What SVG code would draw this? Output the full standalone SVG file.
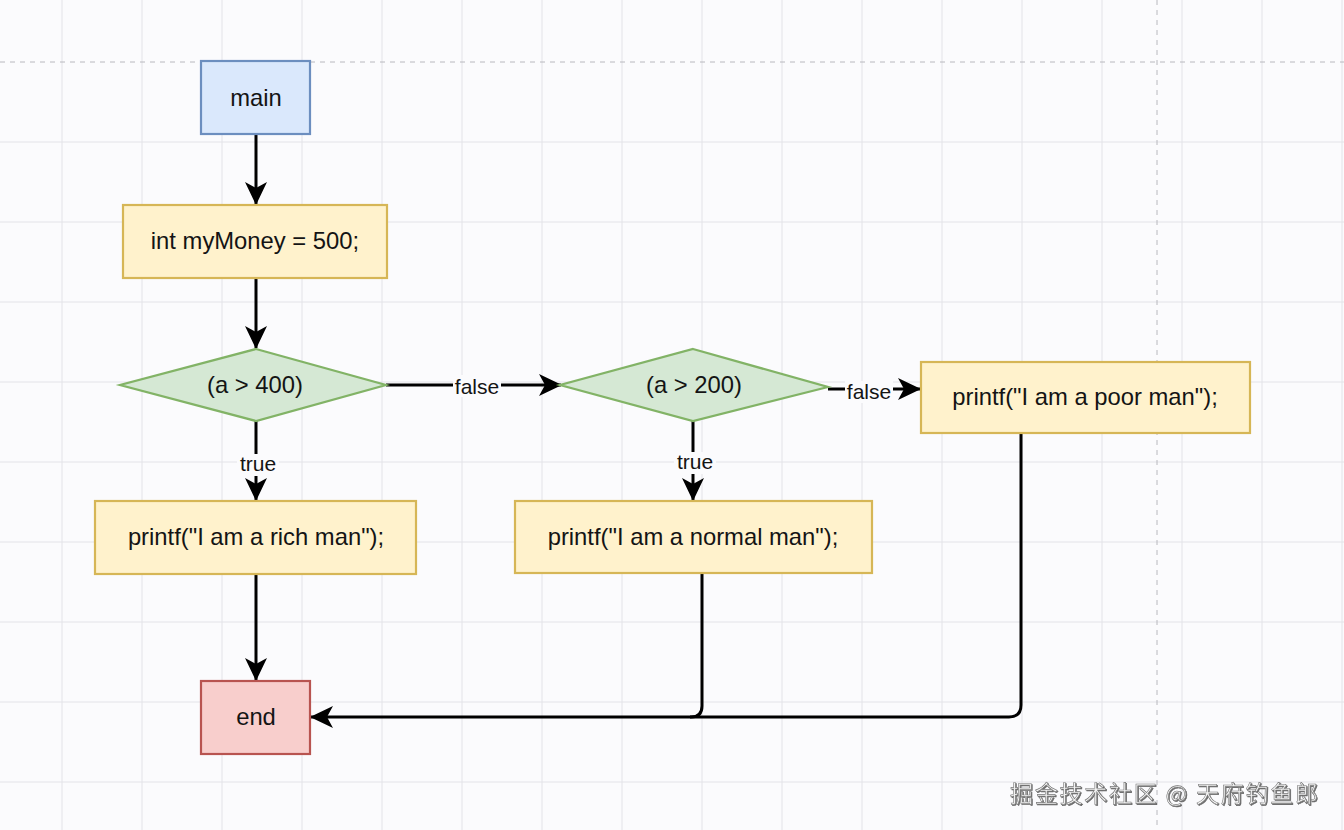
<svg xmlns="http://www.w3.org/2000/svg" width="1344" height="830" viewBox="0 0 1344 830">
<style>
.grid{stroke:#e3e3e8;stroke-width:1}
.page{stroke:#b8b8be;stroke-width:1;stroke-dasharray:5 5}
.proc{fill:#fff2cc;stroke:#d6b656;stroke-width:2.2}
.dec{fill:#d5e8d4;stroke:#82b366;stroke-width:2.2}
.t{font-family:"Liberation Sans",Arial,sans-serif;font-size:23.8px;fill:#141414;text-anchor:middle}
.lb{font-family:"Liberation Sans",Arial,sans-serif;font-size:21px;fill:#141414;text-anchor:middle}
.edge{fill:none;stroke:#000;stroke-width:3}
.arr{marker-end:url(#ah)}
</style>
<defs>
<marker id="ah" markerUnits="userSpaceOnUse" viewBox="0 0 23 22" refX="22" refY="11" markerWidth="23" markerHeight="22" orient="auto">
<path d="M0,0 L23,11 L0,22 L6,11 Z" fill="#000"/>
</marker>
<filter id="sh" x="-5%" y="-20%" width="110%" height="140%">
<feDropShadow dx="1" dy="1" stdDeviation="0.6" flood-color="#444" flood-opacity="0.8"/>
</filter>
</defs>
<rect width="1344" height="830" fill="#fbfbfd"/>
<g id="grid">
<path class="grid" d="M62,0V830M142,0V830M222,0V830M302,0V830M382,0V830M462,0V830M542,0V830M622,0V830M702,0V830M782,0V830M862,0V830M942,0V830M1022,0V830M1102,0V830M1182,0V830M1262,0V830M1342,0V830"/>
<path class="grid" d="M0,142H1344M0,222H1344M0,302H1344M0,382H1344M0,462H1344M0,542H1344M0,622H1344M0,702H1344M0,782H1344"/>
<path class="page" d="M0,62H1344M1157,0V830"/>
</g>
<g id="connectors">
<path class="edge arr" d="M256,134V204"/>
<path class="edge arr" d="M256,278V348"/>
<path class="edge arr" d="M256,421V500"/>
<path class="edge arr" d="M386,385H561"/>
<path class="edge arr" d="M693,421V500"/>
<path class="edge arr" d="M828,389H920"/>
<path class="edge arr" d="M256,574V680"/>
<path class="edge arr" d="M702,574V706Q702,717 691,717H311"/>
<path class="edge" d="M1021,433V705Q1021,717 1009,717H690"/>
<rect x="453" y="375" width="48" height="22" fill="#fbfbfd"/>
<text class="lb" x="477" y="394">false</text>
<rect x="845" y="381" width="48" height="22" fill="#fbfbfd"/>
<text class="lb" x="869" y="399">false</text>
<rect x="237" y="454" width="42" height="22" fill="#fbfbfd"/>
<text class="lb" x="258" y="471">true</text>
<rect x="674" y="452" width="42" height="22" fill="#fbfbfd"/>
<text class="lb" x="695" y="469">true</text>
</g>
<g id="main">
<rect x="201" y="61" width="109" height="73" fill="#dae8fc" stroke="#6c8ebf" stroke-width="2.2"/>
<text class="t" x="256" y="106">main</text>
</g>
<g id="init">
<rect class="proc" x="123" y="205" width="264" height="73"/>
<text class="t" x="255" y="249">int myMoney = 500;</text>
</g>
<g id="cond1">
<polygon class="dec" points="256,349 386,385 256,421 120,385"/>
<text class="t" x="255" y="393">(a &gt; 400)</text>
</g>
<g id="cond2">
<polygon class="dec" points="693,349 828,387 693,421 560,385"/>
<text class="t" x="694" y="393">(a &gt; 200)</text>
</g>
<g id="poor">
<rect class="proc" x="921" y="362" width="329" height="71"/>
<text class="t" x="1085" y="405">printf("I am a poor man");</text>
</g>
<g id="rich">
<rect class="proc" x="95" y="501" width="321" height="73"/>
<text class="t" x="256" y="545">printf("I am a rich man");</text>
</g>
<g id="normal">
<rect class="proc" x="515" y="501" width="357" height="72"/>
<text class="t" x="693" y="545">printf("I am a normal man");</text>
</g>
<g id="end">
<rect x="201" y="681" width="109" height="73" fill="#f8cecc" stroke="#b85450" stroke-width="2.2"/>
<text class="t" x="256" y="725">end</text>
</g>
<text x="1010" y="802" font-family="'Noto Sans CJK SC',sans-serif" font-size="23" fill="#f4f4f4" stroke="#777" stroke-width="0.6" filter="url(#sh)" textLength="308">掘金技术社区 @ 天府钓鱼郎</text>
</svg>
